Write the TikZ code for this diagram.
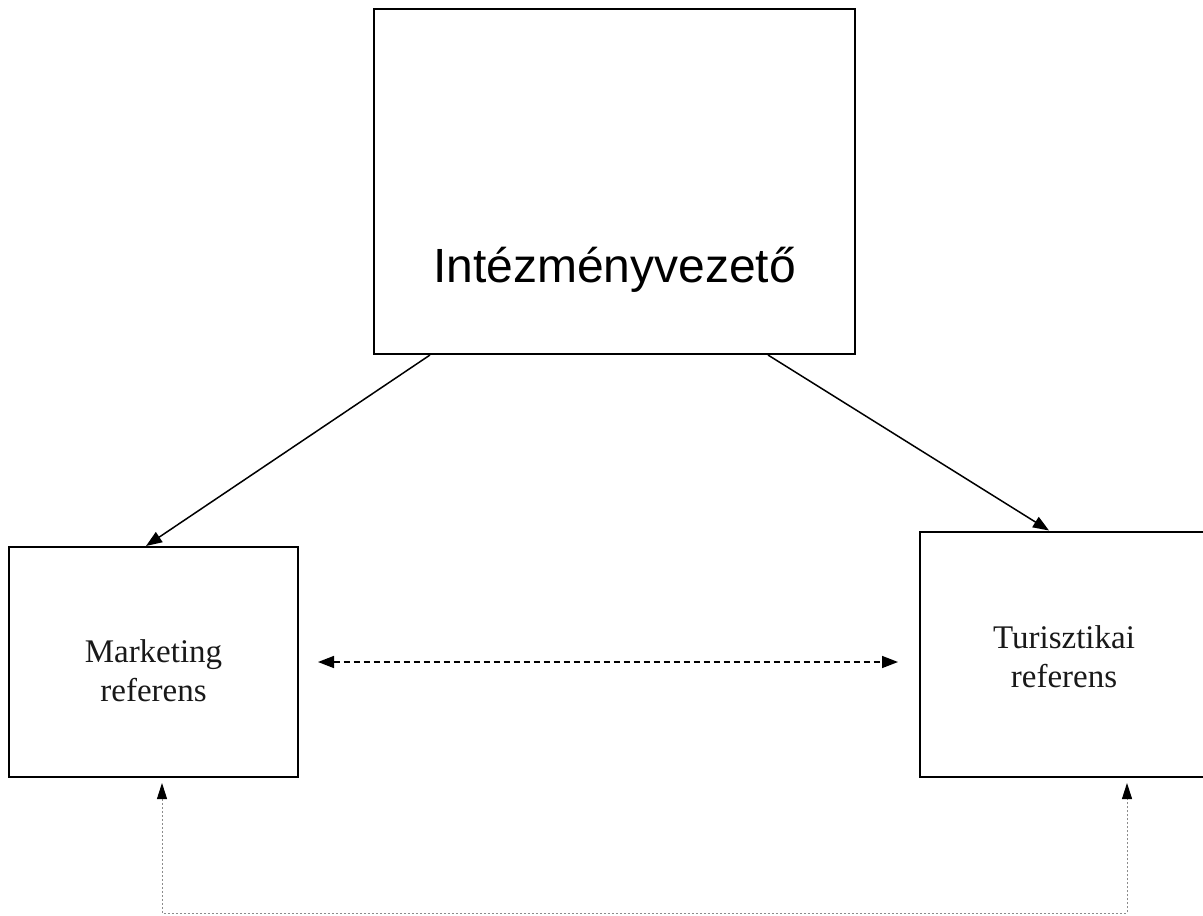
\documentclass[tikz,border=0pt]{standalone}
\usepackage{fontspec}
\setmainfont{Liberation Serif}
\newfontfamily\headfont{Liberation Sans}
\usetikzlibrary{arrows.meta}

\begin{document}
\begin{tikzpicture}[x=.5pt,y=-.5pt,
    box/.style={rectangle,draw=black,line width=1pt,fill=white,inner sep=0pt},
    boxtext/.style={font=\fontsize{16.5}{19.5}\selectfont,align=center,text=black!90},
    link/.style={line width=.75pt,-{Triangle[length=8pt,width=6pt]}},
    dashlink/.style={line width=.75pt,dash pattern=on 3pt off 2pt,{Triangle[length=8pt,width=6pt]}-{Triangle[length=8pt,width=6pt]}},
    dotlink/.style={black!45,line width=.5pt,dash pattern=on 1pt off 1pt,{Triangle[black,length=8pt,width=5pt]}-{Triangle[black,length=8pt,width=5pt]}}
  ]
  \useasboundingbox (0,0) rectangle (1203,915);

  % boxes
  \node[box,minimum width=240.5pt,minimum height=172.5pt,
    label={[font=\headfont\fontsize{24}{28}\selectfont,anchor=base,yshift=-44.25pt]center:Intézményvezető}] (chief) at (614.5,181.5) {};
  \node[box,minimum width=144.5pt,minimum height=115pt,
    label={[boxtext,yshift=-4.5pt]center:Marketing\\referens}] (mkt) at (153.5,662) {};
  \node[box,minimum width=144pt,minimum height=122.75pt,
    label={[boxtext,yshift=-1pt]center:Turisztikai\\referens}] (tur) at (1064,654.25) {};

  % chief -> referents
  \draw[link] ([xshift=28.5pt]chief.south west) -- ([xshift=69pt]mkt.north west);
  \draw[link] ([xshift=-44pt]chief.south east) -- ([xshift=65pt]tur.north west);

  % between referents
  \draw[dashlink] ([xshift=9.5pt]mkt.east) -- ([xshift=-10.5pt]mkt.east -| tur.west);

  % loop below
  \coordinate (bus) at (0,913);
  \coordinate (mktin) at ([xshift=4.25pt,yshift=-2.5pt]mkt.south);
  \coordinate (turin) at ([xshift=31.5pt,yshift=-2.5pt]tur.south);
  \draw[dotlink] (mktin) -- (mktin |- bus) -- (turin |- bus) -- (turin);
\end{tikzpicture}
\end{document}
